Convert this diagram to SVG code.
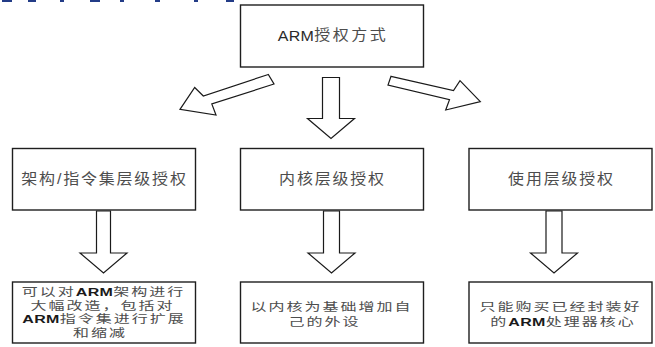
<svg xmlns="http://www.w3.org/2000/svg" width="655" height="347" viewBox="0 0 655 347">
<style>
  .box { fill: #ffffff; stroke: #1e1e1e; stroke-width: 1.4; }
  .arrow { fill: #ffffff; stroke: #1a1a1a; stroke-width: 1.2; stroke-linejoin: miter; }
  .t { font-family: "Liberation Sans", "Noto Sans CJK SC", sans-serif; fill: #4d4d4d; text-anchor: middle; dominant-baseline: central; }
  .m { font-size: 16px; letter-spacing: 1.8px; }
  .b { font-size: 16px; letter-spacing: 2px; }
  .lat { letter-spacing: 0.3px; fill: #2a2a2a; }
  .arm { font-weight: bold; fill: #1a1a1a; letter-spacing: 0.3px; }
  .frag { fill: #233c87; }
</style>
<rect width="655" height="347" fill="#ffffff"/>
<g id="header-fragments">
  <rect class="frag" x="2" y="0" width="10" height="2"/>
  <rect class="frag" x="28" y="0" width="8" height="2"/>
  <rect class="frag" x="60" y="0" width="4" height="2"/>
  <rect class="frag" x="90" y="0" width="10" height="2"/>
  <rect class="frag" x="120" y="0" width="4" height="2"/>
  <rect class="frag" x="155" y="0" width="5" height="2"/>
  <rect class="frag" x="194" y="0" width="4" height="2"/>
  <rect class="frag" x="226" y="0" width="8" height="2"/>
</g>
<g id="connectors">
  <polygon class="arrow" points="268.3,74.5 203.3,96 194.7,87.5 180,109.3 216,115 211.8,104 274,84"/>
  <polygon class="arrow" points="322.5,77.5 339.5,77.5 339.5,118.5 354.5,118.5 331,138.5 307.5,118.5 322.5,118.5"/>
  <polygon class="arrow" points="391,76.3 453.5,90.5 460,80.7 480.3,101.7 445.7,110 449.5,99.6 388,85"/>
  <polygon class="arrow" points="96.5,211 110.5,211 110.5,253 127,253 103.5,273 80,253 96.5,253"/>
  <polygon class="arrow" points="323.5,211 339.5,211 339.5,253 355,253 331.5,273 308,253 323.5,253"/>
  <polygon class="arrow" points="546,211 562,211 562,253 577.5,253 554,273 530.5,253 546,253"/>
</g>
<g id="node-root">
  <rect class="box" x="240.5" y="5" width="183" height="62"/>
  <text class="t" font-size="16" letter-spacing="2.5" transform="translate(333,35) scale(1,0.9)"><tspan class="lat">ARM</tspan>授权方式</text>
</g>
<g id="node-arch">
  <rect class="box" x="12.5" y="148.5" width="183" height="61.5"/>
  <text class="t m" transform="translate(104.5,178.3) scale(1,0.9)">架构/指令集层级授权</text>
</g>
<g id="node-core">
  <rect class="box" x="240.5" y="148.5" width="183" height="61.5"/>
  <text class="t m" transform="translate(332.5,178.3) scale(1,0.9)">内核层级授权</text>
</g>
<g id="node-use">
  <rect class="box" x="469" y="148.5" width="183" height="61.5"/>
  <text class="t m" transform="translate(561.5,178.3) scale(1,0.9)">使用层级授权</text>
</g>
<g id="node-arch-desc">
  <rect class="box" x="12.5" y="282" width="183" height="61"/>
  <text class="t b" transform="translate(103.5,291.7) scale(1,0.72)">可以对<tspan class="arm">ARM</tspan>架构进行</text>
  <text class="t b" transform="translate(102.5,305.7) scale(1,0.72)">大幅改造，包括对</text>
  <text class="t b" transform="translate(104,319.3) scale(1,0.72)"><tspan class="arm">ARM</tspan>指令集进行扩展</text>
  <text class="t b" transform="translate(100,333.3) scale(1,0.72)">和缩减</text>
</g>
<g id="node-core-desc">
  <rect class="box" x="240.5" y="282" width="183" height="61"/>
  <text class="t b" transform="translate(331.5,306.7) scale(1,0.72)">以内核为基础增加自</text>
  <text class="t b" transform="translate(324.5,321.7) scale(1,0.72)">己的外设</text>
</g>
<g id="node-use-desc">
  <rect class="box" x="469" y="282" width="183" height="61"/>
  <text class="t b" transform="translate(560.5,306.7) scale(1,0.72)">只能购买已经封装好</text>
  <text class="t b" transform="translate(563,321.7) scale(1,0.72)">的<tspan class="arm">ARM</tspan>处理器核心</text>
</g>
</svg>
